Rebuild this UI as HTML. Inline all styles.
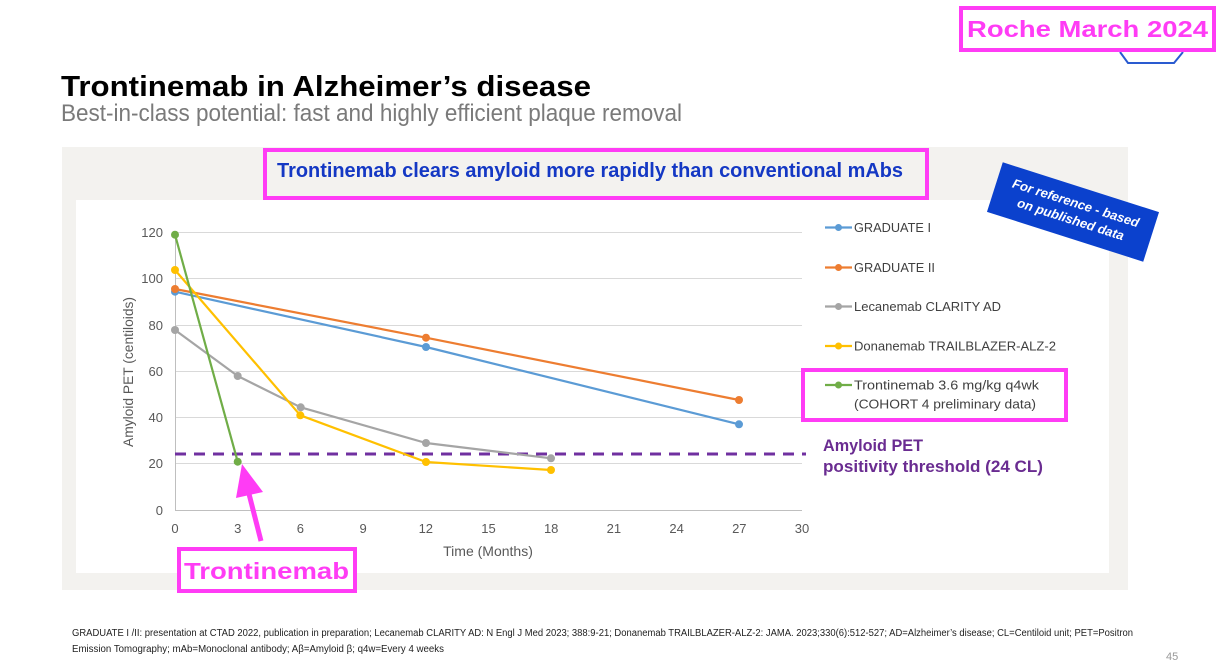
<!DOCTYPE html>
<html><head><meta charset="utf-8"><style>
html,body{margin:0;padding:0;background:#fff;width:1220px;height:670px;overflow:hidden}
svg{display:block}
text{font-family:"Liberation Sans",Arial,sans-serif}
</style></head><body>
<svg width="1220" height="670" viewBox="0 0 1220 670" xmlns="http://www.w3.org/2000/svg">
<!-- top right -->
<polyline points="1120,52 1128,63 1174,63 1183,52" fill="none" stroke="#2a5bd0" stroke-width="2"/>
<rect x="961" y="8" width="253" height="42" fill="#fff" stroke="#ff3cf5" stroke-width="4"/>
<text x="967" y="37" font-size="23" font-weight="bold" fill="#ff3cf5" textLength="241" lengthAdjust="spacingAndGlyphs">Roche March 2024</text>

<!-- titles -->
<text x="61" y="96" font-size="29" font-weight="bold" fill="#000" textLength="530" lengthAdjust="spacingAndGlyphs">Trontinemab in Alzheimer’s disease</text>
<text x="61" y="121" font-size="24" fill="#7a7a7a" textLength="621" lengthAdjust="spacingAndGlyphs">Best-in-class potential: fast and highly efficient plaque removal</text>

<!-- panel -->
<rect x="62" y="147" width="1066" height="443" fill="#f3f2ef"/>
<rect x="76" y="200" width="1033" height="373" fill="#fff"/>

<!-- chart title box -->
<rect x="265" y="150" width="662" height="48" fill="#f3f2ef" stroke="#ff3cf5" stroke-width="4"/>
<text x="277" y="177" font-size="20" font-weight="bold" fill="#1438c4" textLength="626" lengthAdjust="spacingAndGlyphs">Trontinemab clears amyloid more rapidly than conventional mAbs</text>

<!-- blue stamp -->
<g transform="translate(1073,212) rotate(17.7)">
<rect x="-82" y="-26" width="164" height="52" fill="#0b41cd"/>
<text x="0" y="-5" font-size="13" fill="#fff" text-anchor="middle" font-style="italic" font-weight="bold">For reference - based</text>
<text x="0" y="12" font-size="13" fill="#fff" text-anchor="middle" font-style="italic" font-weight="bold">on published data</text>
</g>

<!-- gridlines -->
<g stroke="#d9d9d9" stroke-width="1">
<line x1="175" y1="232.5" x2="802" y2="232.5"/>
<line x1="175" y1="278.5" x2="802" y2="278.5"/>
<line x1="175" y1="325.5" x2="802" y2="325.5"/>
<line x1="175" y1="371.5" x2="802" y2="371.5"/>
<line x1="175" y1="417.5" x2="802" y2="417.5"/>
<line x1="175" y1="463.5" x2="802" y2="463.5"/>
</g>
<line x1="175.5" y1="232" x2="175.5" y2="510" stroke="#bfbfbf" stroke-width="1"/>
<line x1="175" y1="510.5" x2="802" y2="510.5" stroke="#bfbfbf" stroke-width="1"/>

<!-- y tick labels -->
<g font-size="13" fill="#595959" text-anchor="end">
<text x="163" y="237">120</text>
<text x="163" y="283">100</text>
<text x="163" y="330">80</text>
<text x="163" y="376">60</text>
<text x="163" y="422">40</text>
<text x="163" y="468">20</text>
<text x="163" y="515">0</text>
</g>
<!-- x tick labels -->
<g font-size="13" fill="#595959" text-anchor="middle">
<text x="175" y="533">0</text>
<text x="237.7" y="533">3</text>
<text x="300.4" y="533">6</text>
<text x="363.1" y="533">9</text>
<text x="425.8" y="533">12</text>
<text x="488.5" y="533">15</text>
<text x="551.2" y="533">18</text>
<text x="613.9" y="533">21</text>
<text x="676.6" y="533">24</text>
<text x="739.3" y="533">27</text>
<text x="802" y="533">30</text>
</g>
<text x="488" y="556" font-size="14" fill="#595959" text-anchor="middle">Time (Months)</text>
<text transform="translate(133,372) rotate(-90)" font-size="14" fill="#595959" text-anchor="middle" textLength="150" lengthAdjust="spacingAndGlyphs">Amyloid PET (centiloids)</text>

<!-- threshold -->
<line x1="175" y1="454" x2="806" y2="454" stroke="#7030a0" stroke-width="3" stroke-dasharray="11,8"/>

<!-- series -->
<g fill="none" stroke-width="2.2" stroke-linejoin="round">
<polyline points="175,291.7 426,347 739,424.3" stroke="#5b9bd5"/>
<polyline points="175,289 426,337.7 739,400" stroke="#ed7d31"/>
<polyline points="175,330 237.7,376 300.7,407.3 426,443 551,458.3" stroke="#a5a5a5"/>
<polyline points="175,270 300.3,415.3 426,462 551,470" stroke="#ffc000"/>
<polyline points="175,234.7 237.7,461.7" stroke="#70ad47"/>
</g>
<g fill="#5b9bd5"><circle cx="175" cy="291.7" r="4"/><circle cx="426" cy="347" r="4"/><circle cx="739" cy="424.3" r="4"/></g>
<g fill="#ed7d31"><circle cx="175" cy="289" r="4"/><circle cx="426" cy="337.7" r="4"/><circle cx="739" cy="400" r="4"/></g>
<g fill="#a5a5a5"><circle cx="175" cy="330" r="4"/><circle cx="237.7" cy="376" r="4"/><circle cx="300.7" cy="407.3" r="4"/><circle cx="426" cy="443" r="4"/><circle cx="551" cy="458.3" r="4"/></g>
<g fill="#ffc000"><circle cx="175" cy="270" r="4"/><circle cx="300.3" cy="415.3" r="4"/><circle cx="426" cy="462" r="4"/><circle cx="551" cy="470" r="4"/></g>
<g fill="#70ad47"><circle cx="175" cy="234.7" r="4"/><circle cx="237.7" cy="461.7" r="4"/></g>

<!-- legend -->
<g stroke-width="2.2">
<line x1="825" y1="227.5" x2="852" y2="227.5" stroke="#5b9bd5"/>
<line x1="825" y1="267.5" x2="852" y2="267.5" stroke="#ed7d31"/>
<line x1="825" y1="306.5" x2="852" y2="306.5" stroke="#a5a5a5"/>
<line x1="825" y1="346" x2="852" y2="346" stroke="#ffc000"/>
<line x1="825" y1="385" x2="852" y2="385" stroke="#70ad47"/>
</g>
<circle cx="838.5" cy="227.5" r="3.5" fill="#5b9bd5"/>
<circle cx="838.5" cy="267.5" r="3.5" fill="#ed7d31"/>
<circle cx="838.5" cy="306.5" r="3.5" fill="#a5a5a5"/>
<circle cx="838.5" cy="346" r="3.5" fill="#ffc000"/>
<circle cx="838.5" cy="385" r="3.5" fill="#70ad47"/>
<g font-size="13" fill="#404040">
<text x="854" y="232" textLength="77" lengthAdjust="spacingAndGlyphs">GRADUATE I</text>
<text x="854" y="272" textLength="81" lengthAdjust="spacingAndGlyphs">GRADUATE II</text>
<text x="854" y="311" textLength="147" lengthAdjust="spacingAndGlyphs">Lecanemab CLARITY AD</text>
<text x="854" y="350.5" textLength="202" lengthAdjust="spacingAndGlyphs">Donanemab TRAILBLAZER-ALZ-2</text>
<text x="854" y="389.5" textLength="185" lengthAdjust="spacingAndGlyphs">Trontinemab 3.6 mg/kg q4wk</text>
<text x="854" y="408.5" textLength="182" lengthAdjust="spacingAndGlyphs">(COHORT 4 preliminary data)</text>
</g>
<rect x="803" y="370" width="263" height="50" fill="none" stroke="#ff3cf5" stroke-width="4"/>

<!-- threshold label -->
<g font-size="17" font-weight="bold" fill="#6a2c91">
<text x="823" y="451" textLength="100" lengthAdjust="spacingAndGlyphs">Amyloid PET</text>
<text x="823" y="472" textLength="220" lengthAdjust="spacingAndGlyphs">positivity threshold (24 CL)</text>
</g>

<!-- annotation arrow -->
<line x1="261" y1="541" x2="248" y2="490" stroke="#ff3cf5" stroke-width="5"/>
<polygon points="242,464 236,498 263,492" fill="#ff3cf5"/>
<rect x="179" y="549" width="176" height="42" fill="#fff" stroke="#ff3cf5" stroke-width="4"/>
<text x="184" y="579" font-size="23" font-weight="bold" fill="#ff3cf5" textLength="165" lengthAdjust="spacingAndGlyphs">Trontinemab</text>

<!-- footnote -->
<g font-size="10" fill="#222">
<text x="72" y="636" textLength="1061" lengthAdjust="spacingAndGlyphs">GRADUATE I /II: presentation at CTAD 2022, publication in preparation; Lecanemab CLARITY AD: N Engl J Med 2023; 388:9-21; Donanemab TRAILBLAZER-ALZ-2: JAMA. 2023;330(6):512-527; AD=Alzheimer’s disease; CL=Centiloid unit; PET=Positron</text>
<text x="72" y="652" textLength="372" lengthAdjust="spacingAndGlyphs">Emission Tomography; mAb=Monoclonal antibody; Aβ=Amyloid β; q4w=Every 4 weeks</text>
</g>
<text x="1166" y="660" font-size="11" fill="#999">45</text>
</svg>
</body></html>
